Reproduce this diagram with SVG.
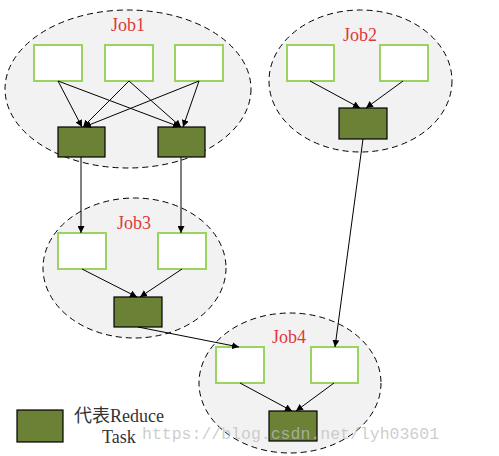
<svg xmlns="http://www.w3.org/2000/svg" width="499" height="456" viewBox="0 0 499 456">
<style>
.job{fill:#f2f2f2;stroke:#000;stroke-width:1;stroke-dasharray:6,4}
.map{fill:#fff;stroke:#9ad45e;stroke-width:2}
.red{fill:#6a8136;stroke:#000;stroke-width:1.2}
.lbl{font-family:"Liberation Serif",serif;font-size:18px;fill:#e0383a;text-anchor:middle}
.leg{font-family:"Liberation Serif","Noto Sans CJK SC",serif;font-size:18px;fill:#333}
.wm{font-family:"Liberation Mono",monospace;font-size:16.5px;fill:#bdbdbd;fill-opacity:0.75}
.cn line{stroke:#000;stroke-width:1;marker-end:url(#ah)}
</style>
<defs>
<marker id="ah" viewBox="0 0 10 10" refX="10" refY="5" markerWidth="7" markerHeight="7" markerUnits="userSpaceOnUse" orient="auto">
<path d="M0,0 L10,5 L0,10 z" fill="#000"/>
</marker>
</defs>
<rect width="499" height="456" fill="#fff"/>
<g id="job1">
<ellipse class="job" cx="128" cy="89" rx="123" ry="79"/>
<text class="lbl" x="128" y="31">Job1</text>
<rect class="map" x="34" y="45" width="48" height="36"/>
<rect class="map" x="105" y="45" width="48" height="36"/>
<rect class="map" x="175" y="45" width="48" height="36"/>
<rect class="red" x="58" y="127" width="47" height="30"/>
<rect class="red" x="158" y="127" width="47" height="30"/>
</g>
<g id="job2">
<ellipse class="job" cx="360.5" cy="81" rx="91.5" ry="71"/>
<text class="lbl" x="360" y="41">Job2</text>
<rect class="map" x="287" y="45" width="47" height="36"/>
<rect class="map" x="380" y="45" width="48" height="36"/>
<rect class="red" x="339" y="108" width="48" height="31"/>
</g>
<g id="job3">
<ellipse class="job" cx="134.5" cy="268" rx="91.5" ry="70"/>
<text class="lbl" x="134" y="229">Job3</text>
<rect class="map" x="58" y="233" width="48" height="36"/>
<rect class="map" x="158" y="233" width="48" height="36"/>
<rect class="red" x="114" y="297" width="48" height="30"/>
</g>
<g id="job4">
<ellipse class="job" cx="290" cy="383" rx="91" ry="70"/>
<text class="lbl" x="289" y="343">Job4</text>
<rect class="map" x="216" y="347" width="48" height="36"/>
<rect class="map" x="311" y="347" width="47" height="36"/>
<rect class="red" x="269" y="411" width="48" height="30"/>
</g>
<g id="connectors" class="cn">
<line x1="58" y1="81" x2="82" y2="127"/>
<line x1="58" y1="81" x2="180" y2="127"/>
<line x1="129" y1="81" x2="83" y2="127"/>
<line x1="129" y1="81" x2="181" y2="127"/>
<line x1="199" y1="81" x2="84" y2="127"/>
<line x1="199" y1="81" x2="183" y2="127"/>
<line x1="310" y1="81" x2="360" y2="108"/>
<line x1="403" y1="81" x2="366" y2="108"/>
<line x1="81" y1="157" x2="81" y2="233"/>
<line x1="181" y1="157" x2="181" y2="233"/>
<line x1="82" y1="269" x2="137" y2="297"/>
<line x1="182" y1="269" x2="140" y2="297"/>
<line x1="363" y1="139" x2="335" y2="347"/>
<line x1="138" y1="327" x2="239" y2="347"/>
<line x1="240" y1="383" x2="292" y2="411"/>
<line x1="334" y1="383" x2="296" y2="411"/>
</g>
<g id="legend">
<rect class="red" x="17" y="410" width="46" height="32"/>
<text class="leg" x="74" y="422">代表Reduce</text>
<text class="leg" x="102" y="443">Task</text>
</g>
<text class="wm" x="142" y="439">https://blog.csdn.net/lyh03601</text>
</svg>
